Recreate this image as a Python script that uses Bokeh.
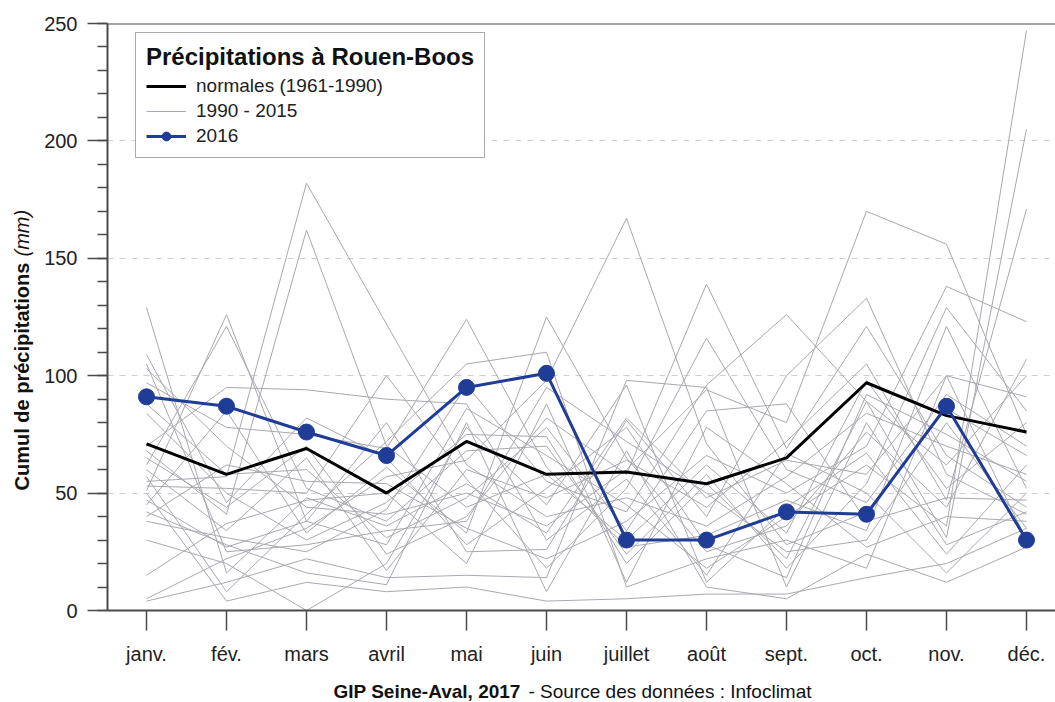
import math
from bokeh.plotting import figure
from bokeh.layouts import row, column
from bokeh.models import (Range1d, FixedTicker, SingleIntervalTicker, Legend,
                          LegendItem, Span)
from bokeh.core.properties import value
from bokeh.embed import file_html
from bokeh.resources import INLINE

# ---------------- data ----------------
months = ["janv.", "fév.", "mars", "avril", "mai", "juin",
          "juillet", "août", "sept.", "oct.", "nov.", "déc."]

normales = [71, 58, 69, 50, 72, 58, 59, 54, 65, 97, 83, 76]
y2016 = [91, 87, 76, 66, 95, 101, 30, 30, 42, 41, 87, 30]

y1990 = [55, 57, 182, 122, 62, 40, 48, 36, 57, 84, 70, 58]
y1991 = [68, 41, 162, 70, 44, 58, 30, 62, 33, 98, 52, 80]
y1992 = [129, 16, 48, 36, 54, 33, 82, 48, 64, 58, 100, 91]
y1993 = [47, 27, 38, 28, 86, 66, 45, 18, 40, 62, 36, 247]
y1994 = [84, 50, 30, 46, 75, 74, 20, 54, 22, 89, 31, 205]
y1995 = [60, 34, 65, 17, 60, 48, 64, 44, 72, 105, 47, 171]
y1996 = [40, 62, 55, 54, 35, 22, 38, 66, 50, 70, 138, 123]
y1997 = [103, 70, 44, 41, 50, 36, 60, 94, 80, 170, 156, 75]
y1998 = [5, 22, 35, 57, 64, 98, 167, 71, 28, 42, 86, 66]
y1999 = [65, 44, 70, 24, 40, 82, 58, 139, 69, 121, 66, 44]
y2000 = [38, 31, 25, 43, 96, 55, 42, 96, 126, 89, 62, 100]
y2001 = [97, 78, 75, 69, 124, 61, 27, 32, 47, 34, 121, 52]
y2002 = [45, 85, 33, 61, 33, 125, 65, 25, 36, 76, 44, 107]
y2003 = [51, 126, 38, 80, 25, 26, 81, 40, 100, 133, 58, 41]
y2004 = [62, 121, 52, 38, 68, 70, 24, 58, 18, 54, 129, 85]
y2005 = [53, 52, 50, 100, 56, 18, 52, 116, 60, 46, 92, 70]
y2006 = [30, 20, 0, 20, 78, 45, 96, 12, 44, 67, 24, 62]
y2007 = [88, 58, 60, 31, 48, 78, 34, 85, 88, 38, 48, 47]
y2008 = [109, 46, 82, 65, 28, 52, 78, 28, 14, 92, 75, 55]
y2009 = [15, 37, 47, 50, 20, 88, 12, 78, 54, 27, 40, 38]
y2010 = [70, 95, 94, 90, 88, 30, 56, 15, 67, 50, 16, 50]
y2011 = [105, 25, 28, 34, 38, 95, 72, 50, 25, 30, 80, 35]
y2012 = [4, 12, 22, 14, 15, 14, 98, 95, 10, 80, 28, 42]
y2013 = [57, 8, 41, 72, 105, 110, 10, 22, 30, 18, 100, 30]
y2014 = [42, 28, 16, 11, 80, 8, 68, 10, 5, 24, 12, 27]
y2015 = [50, 4, 12, 8, 10, 4, 5, 7, 7, 14, 20, 35]

past_years = [y1990, y1991, y1992, y1993, y1994, y1995, y1996, y1997, y1998,
              y1999, y2000, y2001, y2002, y2003, y2004, y2005, y2006, y2007,
              y2008, y2009, y2010, y2011, y2012, y2013, y2014, y2015]

y_title = "Cumul de précipitations"
y_unit = "(mm)"
footer_bold = "GIP Seine-Aval, 2017"
footer_rest = "- Source des données : Infoclimat"
legend_title = "Précipitations à Rouen-Boos"

x = [i + 1 for i in range(len(months))]

FONT = "Liberation Sans"
AXIS_COL = "#4a4a4a"


def blank_fig(w, h, xr, yr, **kw):
    f = figure(width=w, height=h, output_backend="svg", toolbar_location=None,
               x_range=xr, y_range=yr,
               x_axis_location=None, y_axis_location=None, **kw)
    f.outline_line_color = None
    f.grid.visible = False
    f.background_fill_color = "white"
    f.border_fill_color = "white"
    return f


# ---------------- main chart ----------------
p = figure(width=1015, height=672, output_backend="svg", toolbar_location=None,
           x_range=Range1d(0.5125, 12.3625), y_range=Range1d(0, 250),
           min_border_left=67, min_border_right=0, min_border_top=23,
           min_border_bottom=62)
p.outline_line_color = None
p.background_fill_color = "white"
p.border_fill_color = "white"

r_grey = p.multi_line(xs=[x] * len(past_years), ys=past_years,
                      line_color="#a8a8b0", line_width=1)
r_norm = p.line(x, normales, line_color="black", line_width=3)
r16_line = p.line(x, y2016, line_color="#1f3c96", line_width=3)
r16_pts = p.scatter(x, y2016, size=16, fill_color="#1f3c96",
                    line_color="#1f3c96")

p.add_layout(Span(location=250, dimension="width", line_color=AXIS_COL,
                  line_width=2))

p.yaxis.ticker = SingleIntervalTicker(interval=50, num_minor_ticks=5)
p.yaxis.major_tick_out = 20
p.yaxis.major_tick_in = 0
p.yaxis.minor_tick_out = 10
p.yaxis.minor_tick_in = 0
p.yaxis.major_label_standoff = 10

p.xaxis.ticker = FixedTicker(ticks=x)
p.xaxis.major_label_overrides = {xi: m for xi, m in zip(x, months)}
p.xaxis.major_tick_out = 20
p.xaxis.major_tick_in = 0
p.xaxis.major_label_standoff = 12

for ax in (p.xaxis, p.yaxis):
    ax.axis_line_color = AXIS_COL
    ax.axis_line_width = 2
    ax.major_tick_line_color = AXIS_COL
    ax.major_tick_line_width = 1.5
    ax.minor_tick_line_color = AXIS_COL
    ax.minor_tick_line_width = 1.5
    ax.major_label_text_font = FONT
    ax.major_label_text_font_size = "20px"
    ax.major_label_text_color = "#222222"
p.xaxis.minor_tick_line_color = None

p.xgrid.visible = False
p.ygrid.grid_line_color = "#cfcfcf"
p.ygrid.grid_line_dash = "6 6"
p.ygrid.grid_line_width = 1

legend = Legend(items=[
    LegendItem(label="normales (1961-1990)", renderers=[r_norm]),
    LegendItem(label="1990 - 2015", renderers=[r_grey]),
    LegendItem(label="2016", renderers=[r16_line, r16_pts]),
], location=(28, 452), title=legend_title)
legend.title_text_font = FONT
legend.title_text_font_size = "24px"
legend.title_text_font_style = "bold"
legend.title_text_color = "#111111"
legend.title_standoff = 4
legend.label_text_font = FONT
legend.label_text_font_size = "19px"
legend.label_text_color = "#222222"
legend.glyph_width = 40
legend.glyph_height = 22
legend.label_height = 22
legend.label_standoff = 10
legend.spacing = 3
legend.padding = 10
legend.border_line_color = "#555555"
legend.border_line_width = 1.5
legend.background_fill_alpha = 1
p.add_layout(legend)

# ---------------- y-axis title (left strip) ----------------
left = blank_fig(40, 702, Range1d(0, 40), Range1d(0, 702), min_border=0)
left.text(x=[21], y=[212], text=[y_title], angle=math.pi / 2,
          text_align="left", text_baseline="middle",
          text_font=value(FONT), text_font_size="20px",
          text_font_style="bold", text_color="#111111")
left.text(x=[21], y=[446], text=[y_unit], angle=math.pi / 2,
          text_align="left", text_baseline="middle",
          text_font=value(FONT), text_font_size="20px",
          text_font_style="italic", text_color="#111111")

# ---------------- footer strip (x in page pixels) ----------------
foot = blank_fig(1015, 30, Range1d(107, 1055), Range1d(0, 30),
                 min_border_left=67, min_border_right=0,
                 min_border_top=0, min_border_bottom=0)
foot.text(x=[333], y=[11], text=[footer_bold], text_align="left",
          text_baseline="middle", text_font=value(FONT),
          text_font_size="19px", text_font_style="bold",
          text_color="#111111")
foot.text(x=[528], y=[11], text=[footer_rest], text_align="left",
          text_baseline="middle", text_font=value(FONT),
          text_font_size="19px", text_color="#111111")

layout = row(left, column(p, foot, spacing=0), spacing=0)

open("out.html", "w").write(file_html(layout, INLINE))
